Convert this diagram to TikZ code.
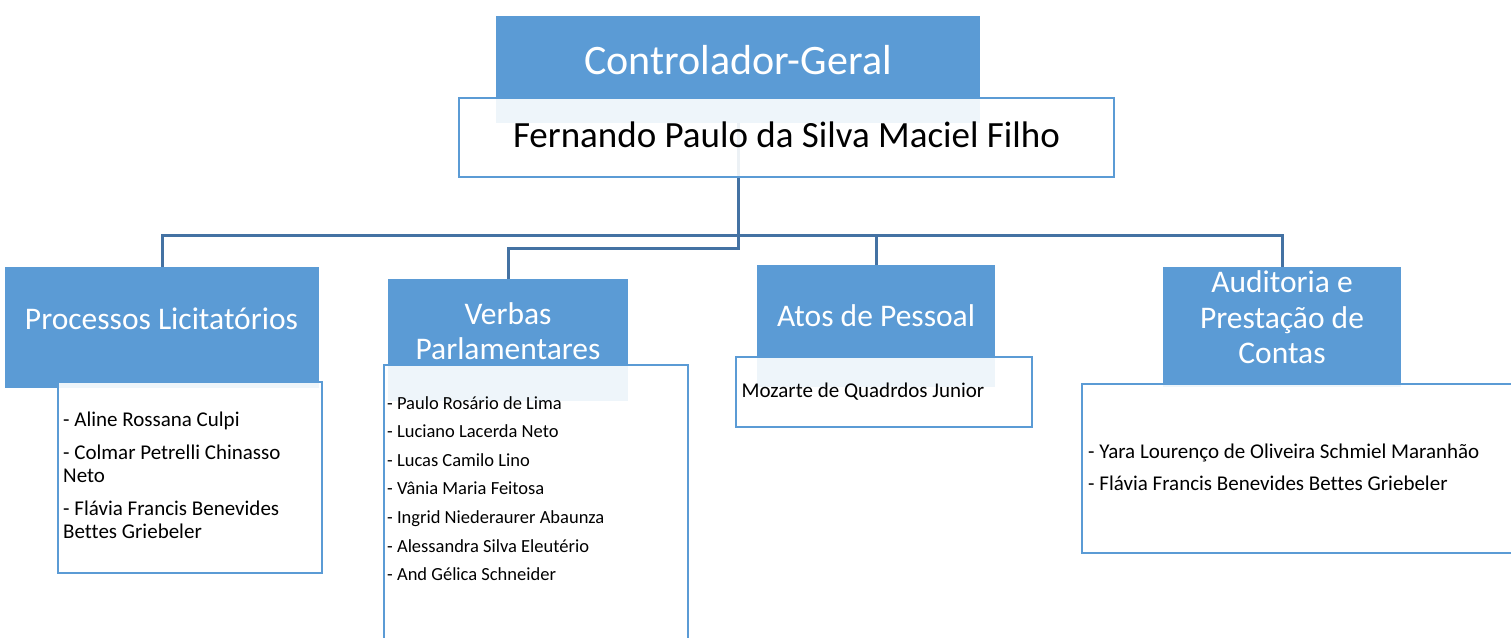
\documentclass[tikz,border=0pt]{standalone}
\usepackage{fontspec}
\setmainfont{Carlito}[Ligatures=NoCommon]
\usepackage{xcolor}
\definecolor{boxblue}{RGB}{91,155,213}
\definecolor{lineblue}{RGB}{68,114,163}

\begin{document}
\begin{tikzpicture}[x=1pt,y=-1pt,
	head/.style={rectangle,fill=boxblue,inner sep=0pt,outer sep=0pt},
	namebox/.style={rectangle,draw=boxblue,fill=white,fill opacity=0.9,line width=2.2pt,inner sep=0pt,outer sep=0pt},
	conn/.style={draw=lineblue,line width=3pt},
	headtext/.style={white,font=\fontsize{31.5}{35.3}\selectfont,align=center,anchor=base,inner sep=0pt},
	listtext/.style={black,font=\fontsize{21}{23.3}\selectfont,align=left,anchor=base west,inner sep=0pt}]
	\useasboundingbox (0,0) rectangle (1511,637);
	\fill[white] (0,0) rectangle (1511,637);
	% blue heads
	\node	(ctrl) at (738,69.5) [head,minimum width=484pt,minimum height=107pt] {};
	\node	(proc) at (162,327.5) [head,minimum width=314pt,minimum height=121pt] {};
	\node	(verb) at (508,340) [head,minimum width=240pt,minimum height=122pt] {};
	\node	(atos) at (876,326) [head,minimum width=238pt,minimum height=122pt] {};
	\node	(aud) at (1282,327) [head,minimum width=238pt,minimum height=120pt] {};
	% bus levels
	\coordinate	(hbus) at (0,235);
	\coordinate	(vbus) at (0,248);
	\draw[conn]
	(ctrl.south) -- (ctrl.south |- hbus) -| (proc.north)
	(ctrl.south) -- (ctrl.south |- vbus) -| (verb.north)
	(ctrl.south) -- (ctrl.south |- hbus) -| (atos.north)
	(ctrl.south) -- (ctrl.south |- hbus) -| (aud.north)
	;
	% name boxes
	\node	(fern) at (786.5,137.5) [namebox,minimum width=655pt,minimum height=79pt] {};
	\node	(procl) at (190,477.5) [namebox,minimum width=264pt,minimum height=191pt] {};
	\node	(verbl) at (536,512.5) [namebox,minimum width=304pt,minimum height=295pt] {};
	\node	(atosl) at (884,392) [namebox,minimum width=296pt,minimum height=70pt] {};
	\node	(audl) at (1297.5,468.5) [namebox,minimum width=431pt,minimum height=169pt] {};
	% texts (base = last line)
	\node	(ctrltxt) at (738,74.3) [headtext,font=\fontsize{42}{46}\selectfont] {Controlador-Geral};
	\node	(ferntxt) at (786.5,147.7) [anchor=base,inner sep=0pt,font=\fontsize{37}{40}\selectfont] {Fernando Paulo da Silva Maciel Filho};
	\node	(proctxt) at (161.5,329.3) [headtext] {Processos Licitatórios};
	\node	(verbtxt) at (508,359.3) [headtext] {Verbas\\Parlamentares};
	\node	(atostxt) at (876,326) [headtext] {Atos de Pessoal};
	\node	(audtxt) at (1282,363.3) [headtext] {Auditoria e\\Prestação de\\Contas};
	\node	(proclist) at (63,538.3) [listtext] {- Aline Rossana Culpi\\[9.2pt]- Colmar Petrelli Chinasso\\Neto\\[9.2pt]- Flávia Francis Benevides\\Bettes Griebeler};
	\node	(verblist) at (387,580.7) [listtext,font=\fontsize{18.5}{28.6}\selectfont] {- Paulo Rosário de Lima\\- Luciano Lacerda Neto\\- Lucas Camilo Lino\\- Vânia Maria Feitosa\\- Ingrid Niederaurer Abaunza\\- Alessandra Silva Eleutério\\- And Gélica Schneider};
	\node	(atoslist) at (741.5,397.7) [listtext] {Mozarte de Quadrdos Junior};
	\node	(audlist) at (1088,490.7) [listtext,font=\fontsize{21}{32.4}\selectfont] {- Yara Lourenço de Oliveira Schmiel Maranhão\\- Flávia Francis Benevides Bettes Griebeler};
\end{tikzpicture}
\end{document}
